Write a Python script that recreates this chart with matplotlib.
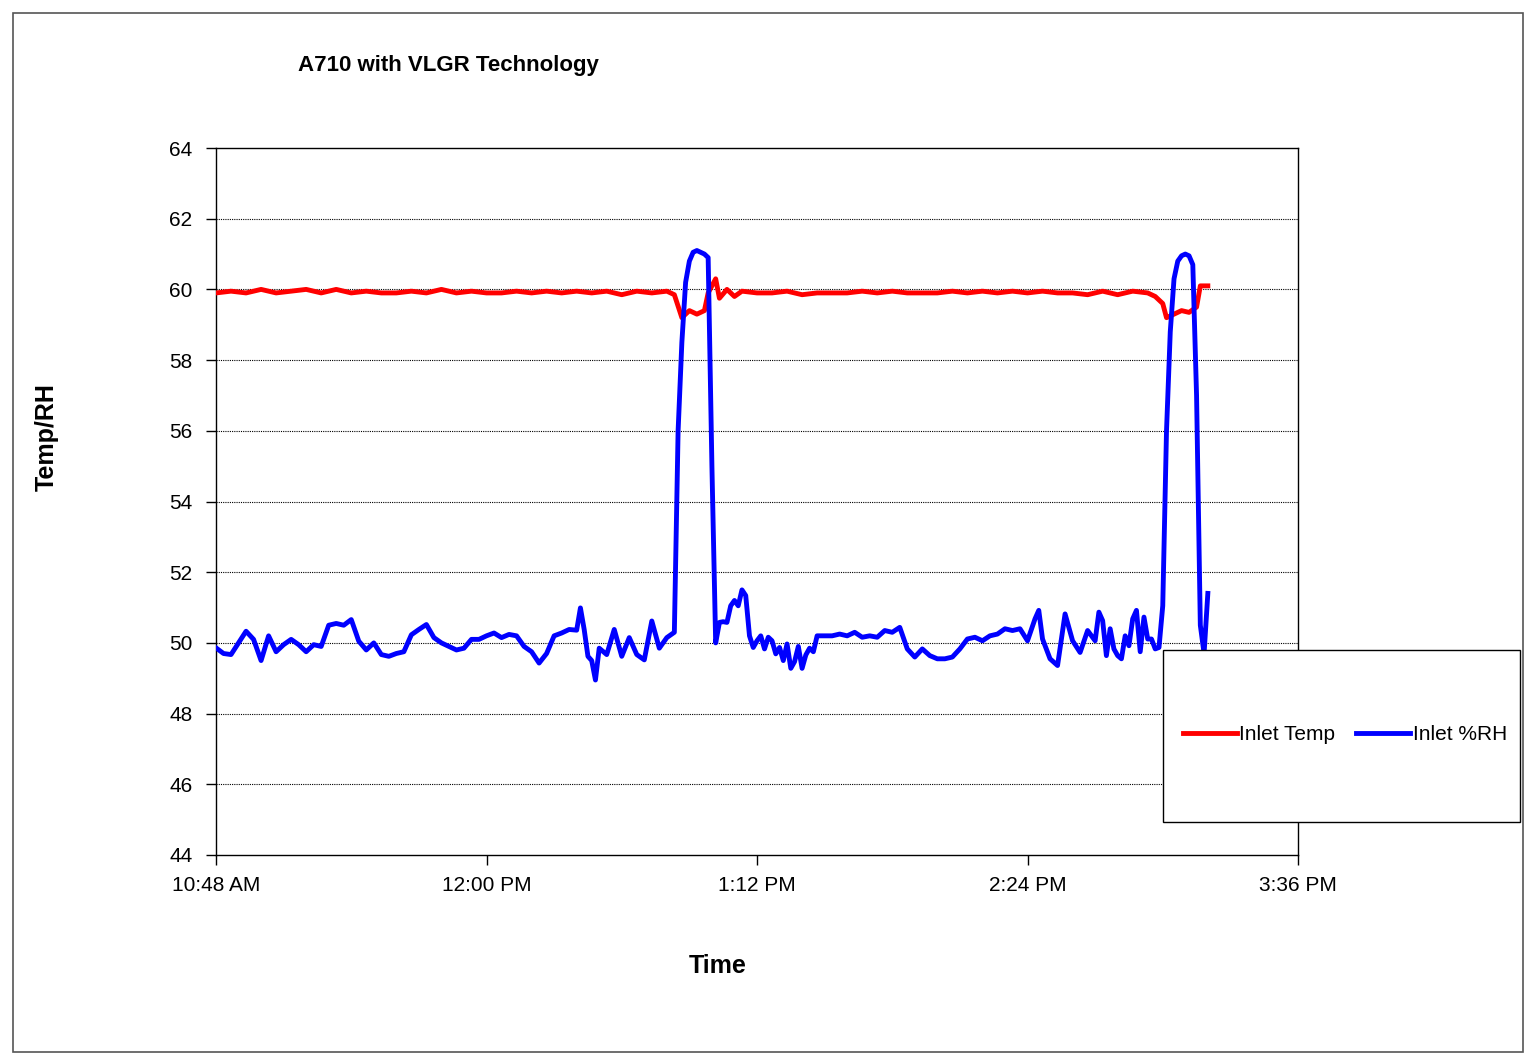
import matplotlib
matplotlib.use("Agg")
import matplotlib.pyplot as plt
from matplotlib.patches import Rectangle

plt.rcParams['font.family'] = ['Liberation Sans', 'DejaVu Sans']

# minutes after 10:48 AM
rh_min = [0, 2, 4, 6, 8, 10, 12, 14, 16, 18, 20, 22, 24, 26, 28, 30, 32, 34, 36, 38,
          40, 42, 44, 46, 48, 50, 52, 54, 56, 58, 60, 62, 64, 66, 68, 70, 72, 74, 76, 78,
          80, 82, 84, 86, 88, 90, 92, 94, 96, 97, 98, 99, 100, 101, 102, 104, 106, 108, 110, 112,
          114, 116, 118, 120, 122, 123, 124, 125, 126, 127, 128, 129, 130, 131, 132, 133,
          134, 135, 136, 137, 138, 139, 140, 141, 142, 143, 144, 145, 146, 147, 148, 149, 150,
          151, 152, 153, 154, 155, 156, 157, 158, 159, 160, 162, 164, 166, 168, 170, 172, 174,
          176, 178, 180, 182, 184, 186, 188, 190, 192, 194, 196, 198, 200, 202, 204, 206, 208,
          210, 212, 214, 216, 218, 219, 220, 222, 224, 226, 228, 230, 232, 234, 235, 236, 237,
          238, 239, 240, 241, 242, 243, 244, 245, 246, 247, 248, 249, 250, 251, 252, 253, 254,
          255, 256, 257, 258, 259, 260, 261, 262, 263, 264]
rh_val = [49.86, 49.7, 49.67, 50.0, 50.33, 50.1, 49.5, 50.2, 49.75, 49.95, 50.1, 49.95, 49.75,
          49.95, 49.9, 50.5, 50.55, 50.5, 50.66, 50.05, 49.8, 50.0, 49.67, 49.62, 49.7, 49.75,
          50.23, 50.38, 50.52, 50.15, 50.0, 49.9, 49.8, 49.85, 50.1, 50.1, 50.2, 50.28, 50.15,
          50.24, 50.2, 49.9, 49.75, 49.43, 49.7, 50.2, 50.28, 50.38, 50.36, 50.99, 50.38, 49.62,
          49.5, 48.95, 49.85, 49.67, 50.38, 49.62, 50.15, 49.67, 49.52, 50.62, 49.85, 50.15,
          50.3, 56.0, 58.5, 60.2, 60.8, 61.05, 61.1, 61.05, 61.0, 60.9, 55.0, 50.0,
          50.58, 50.6, 50.58, 51.05, 51.2, 51.05, 51.5, 51.34, 50.2, 49.87, 50.06, 50.2, 49.83,
          50.16, 50.06, 49.69, 49.87, 49.5, 49.97, 49.28, 49.47, 49.9, 49.28, 49.66, 49.85,
          49.75, 50.2, 50.2, 50.2, 50.25, 50.2, 50.3, 50.16, 50.2, 50.16, 50.35, 50.3, 50.44,
          49.83, 49.6, 49.83, 49.64, 49.55, 49.55, 49.6, 49.83, 50.11, 50.16, 50.06, 50.2, 50.25,
          50.4, 50.35, 50.4, 50.06, 50.68, 50.92, 50.11, 49.55, 49.36, 50.82, 50.06, 49.73,
          50.35, 50.06, 50.87, 50.63, 49.64, 50.4, 49.83, 49.64, 49.55, 50.2, 49.92, 50.68,
          50.92, 49.75, 50.73, 50.11, 50.11, 49.83, 49.87, 51.05, 56.0, 58.8, 60.3, 60.8, 60.95,
          61.0, 60.95, 60.7, 57.0, 50.5, 49.7, 51.4]

t_min = [0, 4, 8, 12, 16, 20, 24, 28, 32, 36, 40, 44, 48, 52, 56, 60, 64, 68, 72, 76, 80, 84,
         88, 92, 96, 100, 104, 108, 112, 116, 120, 122, 124, 126, 128, 130, 131, 133, 134, 136,
         138, 140, 144, 148, 152, 156, 160, 164, 168, 172, 176, 180, 184, 188, 192, 196, 200,
         204, 208, 212, 216, 220, 224, 228, 232, 236, 240, 244, 248, 250, 252, 253, 255, 257,
         259, 261, 262, 264]
t_val = [59.9, 59.95, 59.9, 60.0, 59.9, 59.95, 60.0, 59.9, 60.0, 59.9, 59.95, 59.9, 59.9,
         59.95, 59.9, 60.0, 59.9, 59.95, 59.9, 59.9, 59.95, 59.9, 59.95, 59.9, 59.95, 59.9,
         59.95, 59.85, 59.95, 59.9, 59.95, 59.85, 59.2, 59.4, 59.3, 59.4, 59.9, 60.3, 59.75,
         60.0, 59.8, 59.95, 59.9, 59.9, 59.95, 59.85, 59.9, 59.9, 59.9, 59.95, 59.9, 59.95,
         59.9, 59.9, 59.9, 59.95, 59.9, 59.95, 59.9, 59.95, 59.9, 59.95, 59.9, 59.9, 59.85,
         59.95, 59.85, 59.95, 59.9, 59.8, 59.6, 59.2, 59.3, 59.4, 59.35, 59.5, 60.1, 60.1]

x_ticks = [0, 72, 144, 216, 288]
x_labels = ['10:48 AM', '12:00 PM', '1:12 PM', '2:24 PM', '3:36 PM']

fig = plt.figure(figsize=(15.36, 10.64), dpi=100)
fig.patches.append(Rectangle((13 / 1536, 12 / 1064), 1510 / 1536, 1039 / 1064,
                             transform=fig.transFigure, fill=False, ec='#555555', lw=1.2))
ax = fig.add_axes([216 / 1536, 209 / 1064, 1082 / 1536, 707 / 1064])

ax.plot(t_min, t_val, color='#ff0000', lw=3.5, label='Inlet Temp', zorder=3)
ax.plot(rh_min, rh_val, color='#0000ff', lw=3.5, label='Inlet %RH', zorder=3)

ax.set_xlim(0, 288)
ax.set_ylim(44, 64)
ax.set_yticks(range(44, 65, 2))
ax.set_xticks(x_ticks)
ax.set_xticklabels(x_labels)
ax.tick_params(direction='out', length=7, labelsize=15, width=1)
ax.tick_params(axis='x', pad=8)
ax.tick_params(axis='y', pad=10)
for y in range(46, 64, 2):
    ax.axhline(y, color='black', lw=0.8, ls=(0, (1, 1)), zorder=1)
for s in ax.spines.values():
    s.set_linewidth(1)

fig.text(718 / 1536, 1 - 966 / 1064, 'Time', fontsize=18, fontweight='bold',
         ha='center', va='center')
fig.text(47 / 1536, 1 - 437 / 1064, 'Temp/RH', fontsize=18, fontweight='bold',
         ha='center', va='center', rotation=90)
fig.text(298 / 1536, 1 - 66 / 1064, 'A710 with VLGR Technology', fontsize=16,
         fontweight='bold', va='center')

# legend box
fig.patches.append(Rectangle((1163 / 1536, 242 / 1064), 357 / 1536, 172 / 1064,
                             transform=fig.transFigure, fc='white', ec='black', lw=1, zorder=5))
leg = fig.legend(loc='center', bbox_to_anchor=(1345 / 1536, 1 - 735 / 1064),
                 ncol=2, fontsize=15, frameon=False, handlelength=2.6, handletextpad=0.1,
                 columnspacing=1.0)
leg.set_zorder(6)

fig.savefig('out.png', dpi=100)
